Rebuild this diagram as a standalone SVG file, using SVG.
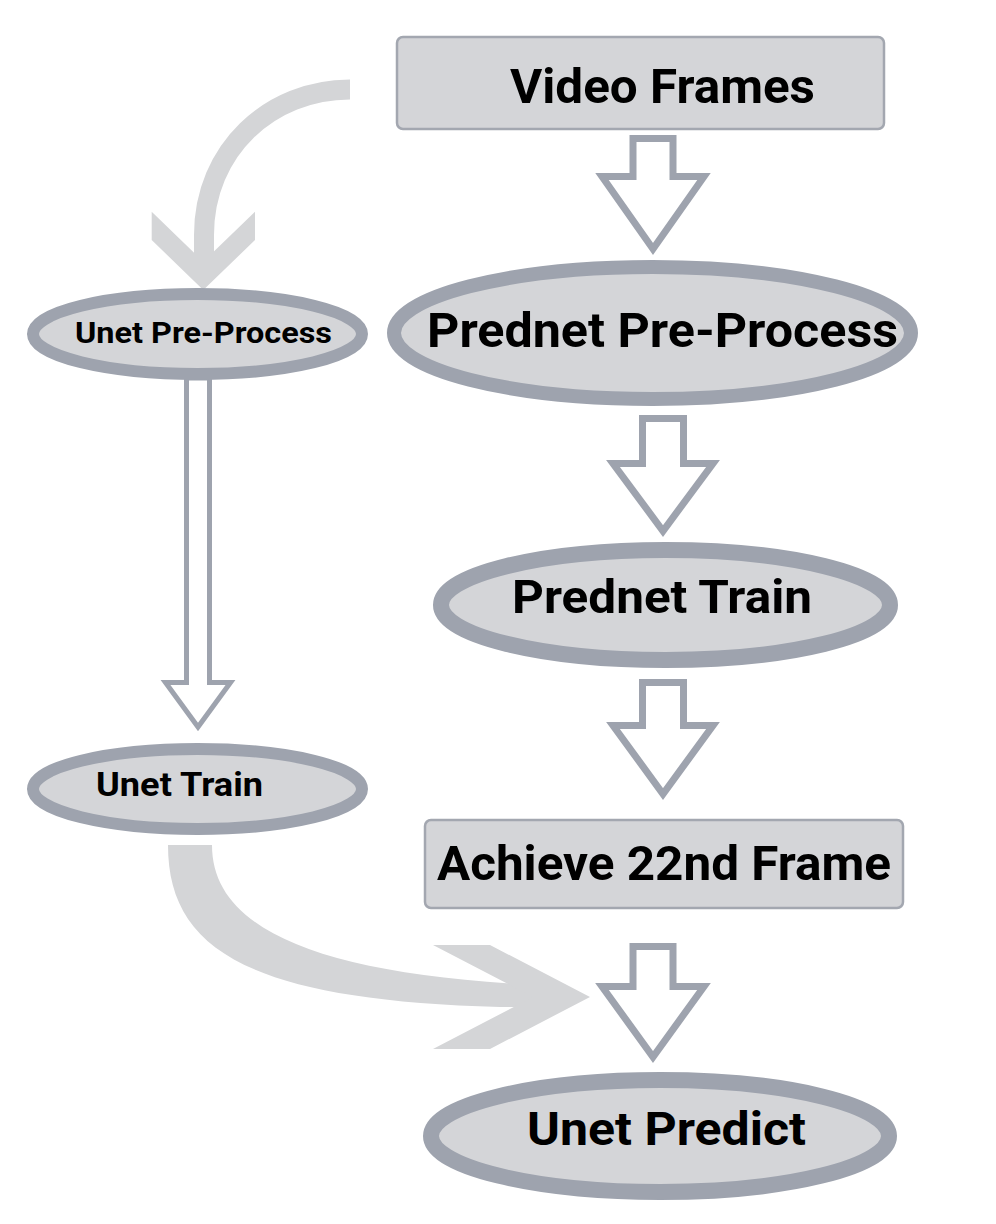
<svg xmlns="http://www.w3.org/2000/svg" width="996" height="1224" viewBox="0 0 996 1224">
<style>
.bg{fill:#ffffff}
.box{fill:#d4d5d8;stroke:#a3a7b0;stroke-width:2.5}
.ell{fill:#d4d5d8;stroke:#9ea3ae}
.lbl{font-family:Roboto,"Liberation Sans",sans-serif;font-weight:700;fill:#000;text-anchor:middle}
.hollow{fill:#ffffff;stroke:#9ea3ae;stroke-width:7;stroke-linejoin:miter;stroke-miterlimit:10}
.thin{fill:#ffffff;stroke:#9ea3ae;stroke-width:5;stroke-linejoin:miter;stroke-miterlimit:10}
.soft{fill:#d4d5d7}
.softline{fill:none;stroke:#d4d5d7;stroke-width:20}
</style>
<rect class="bg" x="0" y="0" width="996" height="1224"/>
<g id="connectors">
  <path class="softline" d="M350,89.5 C270,89.5 204,150 204,235 L204,265"/>
  <polygon class="soft" points="151.7,211.7 203.3,261.7 255,211.7 255,240 203.3,290 151.7,240"/>
  <path class="soft" d="M168,845 C168,950 250,1000 500,1007 L540,1007 L540,985 C320,975 212,930 212,845 Z"/>
  <polygon class="soft" points="433,945 490,945 590,997 490,1049 433,1049 533,997"/>
  <path class="hollow" d="M633,138.5 H673 V176.5 H704 L653,249 L602,176.5 H633 Z"/>
  <path class="hollow" d="M642.5,418.5 H683.5 V463.5 H713 L663,531 L613,463.5 H642.5 Z"/>
  <path class="hollow" d="M642.5,682.5 H683.5 V725.5 H713 L663,794 L613,725.5 H642.5 Z"/>
  <path class="hollow" d="M633,946.5 H673 V986.5 H704 L653,1057 L602,986.5 H633 Z"/>
  <path class="thin" d="M186.5,378 H209.5 V682.5 H230.5 L198,727 L165.5,682.5 H186.5 Z"/>
</g>
<g id="video-frames">
  <rect class="box" x="397" y="37" width="487" height="92" rx="6"/>
  <text class="lbl" x="662.5" y="103" font-size="49" textLength="305" lengthAdjust="spacingAndGlyphs">Video Frames</text>
</g>
<g id="prednet-preprocess">
  <ellipse class="ell" cx="652.5" cy="333" rx="258.5" ry="66" stroke-width="14"/>
  <text class="lbl" x="662.5" y="347" font-size="49" textLength="471" lengthAdjust="spacingAndGlyphs">Prednet Pre-Process</text>
</g>
<g id="prednet-train">
  <ellipse class="ell" cx="665.5" cy="605" rx="224.5" ry="55" stroke-width="16"/>
  <text class="lbl" x="662" y="613" font-size="47" textLength="300" lengthAdjust="spacingAndGlyphs">Prednet Train</text>
</g>
<g id="achieve-22nd-frame">
  <rect class="box" x="425" y="820" width="478" height="88" rx="6"/>
  <text class="lbl" x="664" y="880" font-size="49" textLength="454" lengthAdjust="spacingAndGlyphs">Achieve 22nd Frame</text>
</g>
<g id="unet-predict">
  <ellipse class="ell" cx="660" cy="1136" rx="229" ry="56" stroke-width="16"/>
  <text class="lbl" x="666.5" y="1145" font-size="46" textLength="279" lengthAdjust="spacingAndGlyphs">Unet Predict</text>
</g>
<g id="unet-preprocess">
  <ellipse class="ell" cx="197.5" cy="334" rx="164.5" ry="40" stroke-width="12"/>
  <text class="lbl" x="203.5" y="343" font-size="30" textLength="257" lengthAdjust="spacingAndGlyphs">Unet Pre-Process</text>
</g>
<g id="unet-train">
  <ellipse class="ell" cx="197.5" cy="789" rx="164.5" ry="40" stroke-width="12"/>
  <text class="lbl" x="179.5" y="796" font-size="33" textLength="167" lengthAdjust="spacingAndGlyphs">Unet Train</text>
</g>
</svg>
